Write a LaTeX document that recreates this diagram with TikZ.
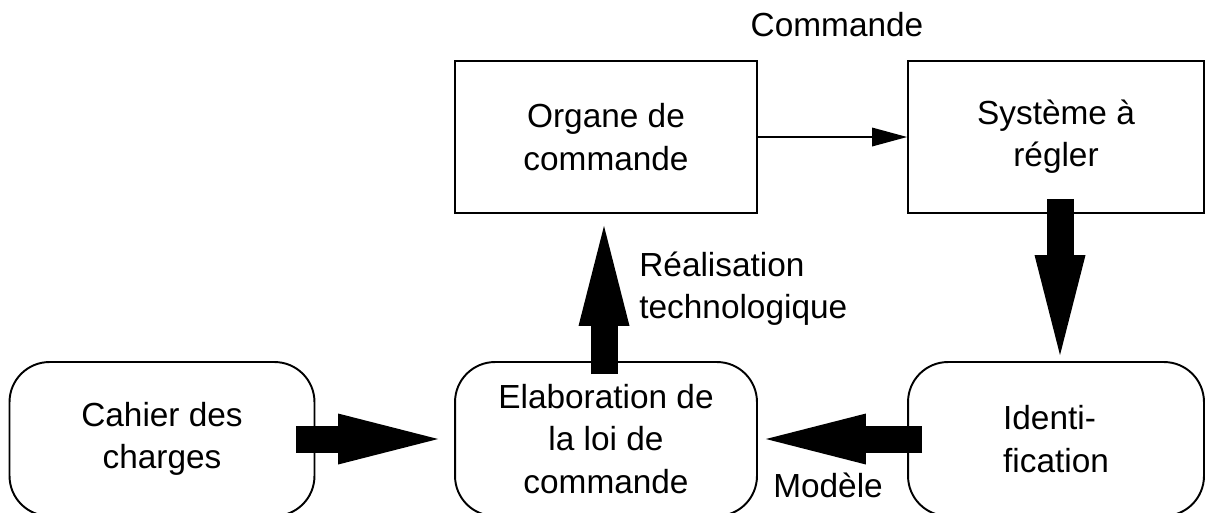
\documentclass[tikz,border=0pt]{standalone}
\usepackage{fontspec}
\setmainfont{Liberation Sans}
\usetikzlibrary{arrows.meta}

\tikzset{
    bloc/.style   = {draw, line width=1.1pt, minimum width=6.04cm, minimum height=3.04cm,
                     align=center, inner sep=0pt},
    rbloc/.style  = {bloc, rounded corners=0.8cm, minimum height=3.08cm},
    grosse/.style = {line width=0.54cm, -{Triangle[length=2cm,width=1.02cm,line width=0pt]}},
    fine/.style   = {line width=1.1pt, -{Triangle[length=0.7cm,width=0.38cm,line width=0pt]}},
    etiq/.style   = {inner sep=0pt},
}

\begin{document}
\begin{tikzpicture}[x=0.02cm, y=-0.02cm, font=\fontsize{19}{24}\selectfont]
            \useasboundingbox (0,0) rectangle (1212,512);

            \node[bloc]                          (organe)  at (606,137)  {Organe de\\commande};
            \node[bloc, minimum width=5.92cm]    (systeme) at (1056,137) {Système à\\régler};
            \node[rbloc, minimum width=6.1cm]    (cahier)  at (162,439)  {Cahier des\\charges};
            \node[rbloc]                         (elab)    at (606,439)  {Elaboration de\\la loi de\\commande};
            \node[rbloc, minimum width=5.92cm, align=left] (ident) at (1056,439) {Identi-\\fication};

            \node[etiq, anchor=base]      (commande) at (837,36)  {Commande};
            \node[etiq, anchor=west, align=left] (realis) at (639,289) {Réalisation\\technologique};
            \node[etiq, anchor=base]      (modele)   at (828,497) {Modèle};

            \draw[fine]   (organe.east) -- (systeme.west);
            \draw[grosse] ([xshift=-0.38cm]cahier.east) -- ([xshift=-0.32cm]elab.west);
            \draw[grosse] ([xshift=-0.04cm,yshift=-0.26cm]elab.north) -- ([xshift=-0.04cm,yshift=-0.24cm]organe.south);
            \draw[grosse] ([xshift=0.08cm,yshift=0.3cm]systeme.south) -- ([xshift=0.08cm,yshift=0.12cm]ident.north);
            \draw[grosse] ([xshift=0.3cm]ident.west) -- ([xshift=0.16cm]elab.east);
        \end{tikzpicture}
\end{document}
